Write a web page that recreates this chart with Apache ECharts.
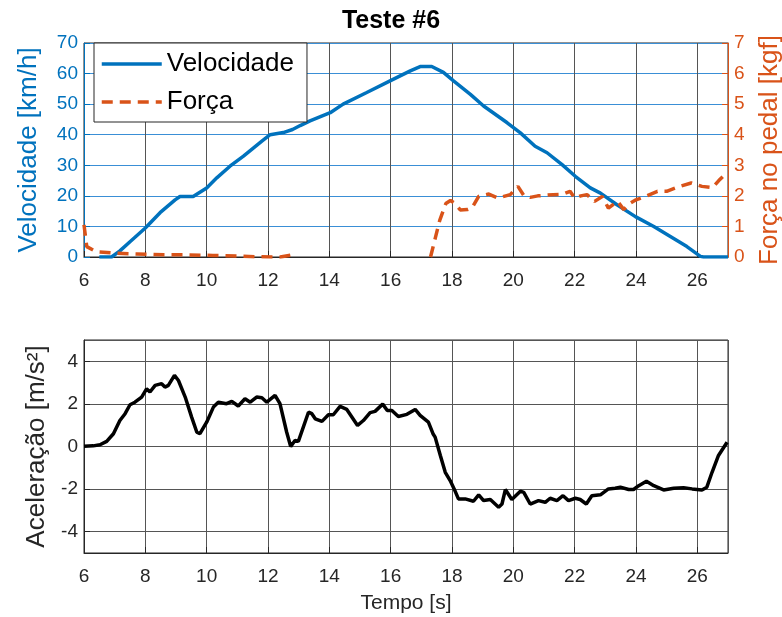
<!DOCTYPE html>
<html>
<head>
<meta charset="utf-8">
<title>Teste #6</title>
<script src="https://cdn.jsdelivr.net/npm/echarts@6/dist/echarts.min.js"></script>
<style>
  html, body { margin: 0; padding: 0; background: #fff; }
  #chart { width: 782px; height: 617px; }
</style>
</head>
<body>
<div id="chart"></div>
<script>
// Velocity [km/h] over time [s]
const velTime = [6.5, 6.9, 7.17, 7.5, 8.0, 8.48, 8.97, 9.13, 9.56, 10.0, 10.33, 10.76, 11.2, 11.8, 12.07, 12.5, 12.8, 13.05, 13.37, 14.03, 14.45, 15.22, 15.98, 16.64, 16.96, 17.34, 17.72, 18.05, 18.6, 19.03, 19.8, 20.23, 20.71, 21.1, 21.59, 22.02, 22.51, 22.84, 23.38, 23.98, 24.58, 25.12, 25.66, 26.1, 26.2, 27.0];
const velValues = [0, 0, 2, 5, 9.5, 14.5, 18.7, 19.8, 19.8, 22.6, 25.9, 29.7, 33, 37.9, 40, 40.7, 41.7, 43, 44.5, 47.2, 50, 53.8, 57.6, 60.9, 62.3, 62.3, 60.4, 57.6, 53.2, 49.4, 43.9, 40.6, 36.2, 34.1, 30.2, 26.4, 22.6, 20.9, 17.1, 13.2, 10, 6.7, 3.4, 0.2, 0, 0];

// Brake pedal force [kgf]; null = no reading
const forceTime = [6.0, 6.09, 6.41, 7.07, 7.72, 8.6, 9.35, 10.2, 10.98, 11.6, 12.4, 12.78, 15.0, 17.3, 17.45, 17.6, 17.8, 17.95, 18.1, 18.27, 18.5, 18.65, 18.87, 19.2, 19.5, 19.9, 20.15, 20.35, 20.55, 20.8, 21.3, 21.6, 21.85, 22.0, 22.2, 22.4, 22.65, 22.9, 23.1, 23.4, 23.6, 23.8, 24.0, 24.3, 24.7, 25.0, 25.4, 25.8, 26.15, 26.5, 26.7, 26.95];
const forceValues = [1.05, 0.34, 0.17, 0.12, 0.1, 0.07, 0.07, 0.05, 0.03, 0.01, 0.0, 0.07, null, 0, 0.6, 1.2, 1.75, 1.85, 1.75, 1.54, 1.55, 1.6, 1.98, 2.06, 1.93, 2.04, 2.31, 2.0, 1.95, 2.0, 2.04, 2.05, 2.15, 1.93, 2.0, 2.04, 1.82, 1.98, 1.6, 1.82, 1.55, 1.75, 1.87, 1.98, 2.15, 2.15, 2.3, 2.42, 2.31, 2.27, 2.5, 2.75];

// Acceleration [m/s²]
const accTime = [6.0, 6.3, 6.52, 6.74, 6.96, 7.17, 7.34, 7.5, 7.66, 7.88, 8.04, 8.15, 8.32, 8.53, 8.64, 8.75, 8.95, 9.08, 9.3, 9.51, 9.68, 9.78, 10.0, 10.22, 10.38, 10.65, 10.82, 11.03, 11.25, 11.42, 11.63, 11.8, 11.96, 12.23, 12.39, 12.61, 12.74, 12.88, 12.99, 13.32, 13.43, 13.54, 13.76, 13.97, 14.13, 14.35, 14.57, 14.92, 15.11, 15.33, 15.49, 15.74, 15.89, 16.04, 16.25, 16.53, 16.8, 16.96, 17.23, 17.38, 17.45, 17.62, 17.78, 17.94, 18.07, 18.21, 18.43, 18.7, 18.87, 19.03, 19.25, 19.52, 19.63, 19.74, 19.95, 20.23, 20.34, 20.55, 20.82, 21.04, 21.2, 21.42, 21.62, 21.8, 22.02, 22.18, 22.38, 22.56, 22.84, 23.1, 23.32, 23.49, 23.76, 23.92, 24.09, 24.34, 24.58, 24.9, 25.23, 25.55, 25.83, 26.15, 26.31, 26.48, 26.69, 26.97];
const accValues = [0.01, 0.03, 0.08, 0.24, 0.6, 1.22, 1.54, 1.96, 2.08, 2.32, 2.71, 2.56, 2.87, 2.95, 2.79, 2.87, 3.34, 3.1, 2.32, 1.38, 0.67, 0.6, 1.14, 1.85, 2.08, 2.01, 2.12, 1.9, 2.24, 2.08, 2.32, 2.29, 2.08, 2.4, 2.01, 0.67, 0.0, 0.28, 0.24, 1.61, 1.54, 1.3, 1.18, 1.49, 1.49, 1.88, 1.74, 0.99, 1.22, 1.59, 1.65, 1.99, 1.69, 1.69, 1.41, 1.51, 1.74, 1.46, 1.14, 0.6, 0.44, -0.42, -1.21, -1.6, -1.99, -2.46, -2.46, -2.57, -2.27, -2.54, -2.49, -2.85, -2.7, -2.02, -2.49, -2.1, -2.15, -2.7, -2.54, -2.62, -2.43, -2.54, -2.31, -2.54, -2.43, -2.49, -2.7, -2.31, -2.27, -1.99, -1.96, -1.91, -2.02, -2.02, -1.84, -1.63, -1.84, -2.04, -1.96, -1.94, -1.99, -2.04, -1.91, -1.21, -0.42, 0.2];

const BLUE = '#0072BD';
const ORANGE = '#D95319';
const DARK = '#262626';
const FONT = 'Liberation Sans, Arial, sans-serif';

const zip = (xs, ys) => xs.map((x, i) => [x, ys[i]]);

const timeAxis = (gridIndex) => ({
  type: 'value',
  gridIndex,
  min: 6,
  max: 27,
  interval: 2,
  axisLine: { show: true, onZero: false, lineStyle: { color: DARK, width: 1 } },
  axisTick: { show: true, inside: true, length: 6, lineStyle: { color: DARK } },
  axisLabel: { color: DARK, fontSize: 19, fontFamily: FONT, margin: 14, showMaxLabel: false },
  splitLine: { show: true, lineStyle: { color: '#555', width: 1 } }
});

const chart = echarts.init(document.getElementById('chart'), null, { renderer: 'canvas' });

chart.setOption({
  backgroundColor: '#fff',
  animation: false,
  title: {
    text: 'Teste #6',
    left: 'center',
    top: 4,
    textStyle: { fontSize: 25, fontWeight: 'bold', color: '#000', fontFamily: FONT }
  },
  legend: {
    left: 94,
    top: 43,
    orient: 'vertical',
    itemWidth: 60,
    itemHeight: 14,
    itemGap: 12,
    padding: [8, 13, 7, 6],
    backgroundColor: '#fff',
    borderColor: DARK,
    borderWidth: 1,
    itemStyle: { opacity: 0 },
    lineStyle: { width: 3.5 },
    textStyle: { fontSize: 26, color: '#000', fontFamily: FONT },
    data: ['Velocidade', 'Força']
  },
  grid: [
    { left: 84, top: 43, width: 644, height: 214, show: true, borderColor: DARK, borderWidth: 1, backgroundColor: '#fff', outerBoundsMode: 'none', containLabel: false },
    { left: 84, top: 340, width: 644, height: 213, show: true, borderColor: DARK, borderWidth: 1, backgroundColor: '#fff', outerBoundsMode: 'none', containLabel: false }
  ],
  xAxis: [timeAxis(0), Object.assign(timeAxis(1), {
    name: 'Tempo [s]',
    nameLocation: 'middle',
    nameGap: 40,
    nameTextStyle: { fontSize: 21, color: DARK, fontFamily: FONT }
  })],
  yAxis: [
    {
      type: 'value', gridIndex: 0, position: 'left', min: 0, max: 70, interval: 10,
      name: 'Velocidade [km/h]', nameLocation: 'middle', nameGap: 42,
      nameTextStyle: { fontSize: 26, color: BLUE, fontFamily: FONT },
      axisLine: { show: true, lineStyle: { color: BLUE, width: 1 } },
      axisTick: { show: true, inside: true, length: 6, lineStyle: { color: BLUE } },
      axisLabel: { color: BLUE, fontSize: 19, fontFamily: FONT, margin: 6 },
      splitLine: { show: true, lineStyle: { color: '#3a8fd6', width: 1 } }
    },
    {
      type: 'value', gridIndex: 0, position: 'right', min: 0, max: 7, interval: 1,
      name: 'Força no pedal [kgf]', nameLocation: 'middle', nameGap: 29,
      nameTextStyle: { fontSize: 26, color: ORANGE, fontFamily: FONT },
      axisLine: { show: true, lineStyle: { color: ORANGE, width: 1 } },
      axisTick: { show: true, inside: true, length: 6, lineStyle: { color: ORANGE } },
      axisLabel: { color: ORANGE, fontSize: 19, fontFamily: FONT, margin: 6 },
      splitLine: { show: false }
    },
    {
      type: 'value', gridIndex: 1, min: -5, max: 5, splitNumber: 5,
      name: 'Aceleração [m/s²]', nameLocation: 'middle', nameGap: 34,
      nameTextStyle: { fontSize: 26, color: DARK, fontFamily: FONT },
      axisLine: { show: true, lineStyle: { color: DARK, width: 1 } },
      axisTick: { show: true, inside: true, length: 6, lineStyle: { color: DARK } },
      axisLabel: { color: DARK, fontSize: 19, fontFamily: FONT, margin: 6, showMinLabel: false, showMaxLabel: false },
      splitLine: { show: true, lineStyle: { color: '#555', width: 1 } }
    }
  ],
  series: [
    {
      name: 'Velocidade', type: 'line', xAxisIndex: 0, yAxisIndex: 0,
      data: zip(velTime, velValues), symbol: 'none', z: 3,
      lineStyle: { color: BLUE, width: 3.5 }, itemStyle: { color: BLUE }
    },
    {
      name: 'Força', type: 'line', xAxisIndex: 0, yAxisIndex: 1,
      data: zip(forceTime, forceValues), symbol: 'none', connectNulls: false, z: 4,
      lineStyle: { color: ORANGE, width: 3.5, type: [11, 7] }, itemStyle: { color: ORANGE }
    },
    {
      name: 'Aceleração', type: 'line', xAxisIndex: 1, yAxisIndex: 2,
      data: zip(accTime, accValues), symbol: 'none', z: 3,
      lineStyle: { color: '#000', width: 3.5 }, itemStyle: { color: '#000' }
    }
  ]
});
</script>
</body>
</html>
